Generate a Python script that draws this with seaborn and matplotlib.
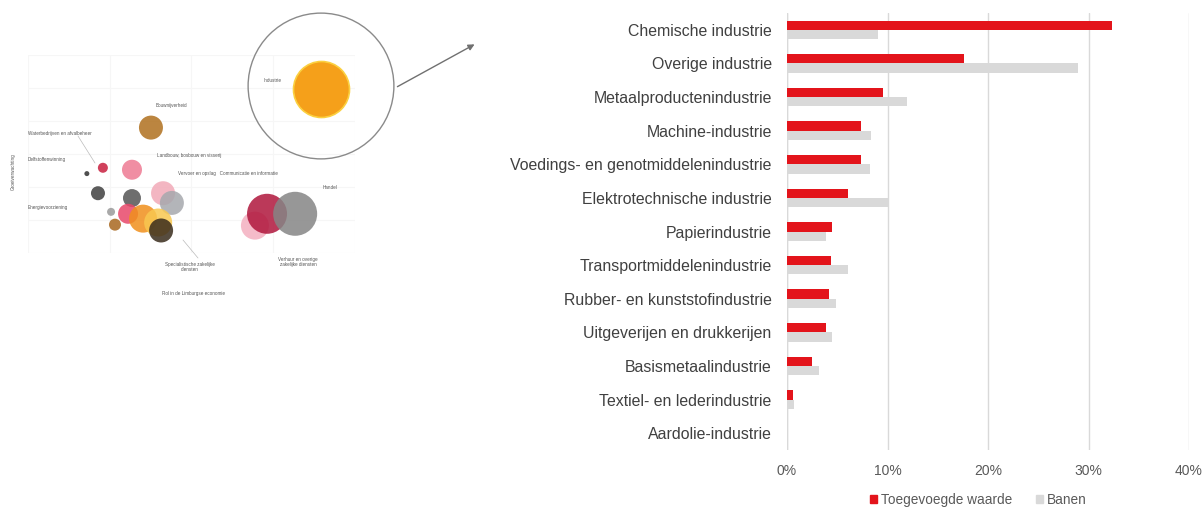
import matplotlib
matplotlib.use("Agg")
import matplotlib.pyplot as plt
import matplotlib.patches as mpatches
import seaborn as sns
import numpy as np
import pandas as pd

# bar chart data (share in %)
categorieen = ["Chemische industrie", "Overige industrie", "Metaalproductenindustrie",
               "Machine-industrie", "Voedings- en genotmiddelenindustrie",
               "Elektrotechnische industrie", "Papierindustrie",
               "Transportmiddelenindustrie", "Rubber- en kunststofindustrie",
               "Uitgeverijen en drukkerijen", "Basismetaalindustrie",
               "Textiel- en lederindustrie", "Aardolie-industrie"]
toegevoegde_waarde = [32.3, 17.6, 9.6, 7.4, 7.4, 6.1, 4.5, 4.4, 4.2, 3.9, 2.5, 0.6, 0.0]
banen = [9.1, 29.0, 11.9, 8.4, 8.3, 10.0, 3.9, 6.1, 4.9, 4.5, 3.2, 0.7, 0.0]
reeksen = ["Toegevoegde waarde", "Banen"]
x_ticks = [0, 10, 20, 30, 40]

# bubble chart thumbnail data (arbitrary 0-10 units)
bubbel_namen = ["Landbouw", "Waterbedrijven", "Delfstoffen", "Bouw", "Donker1", "Donker2",
                "Vervoer", "Communicatie", "Klein grijs", "Roze", "Oranje", "Geel",
                "Bruin klein", "Specialistisch", "Verhuur roze", "Verhuur", "Handel"]
bubbel_x = [3.18, 2.29, 1.80, 3.76, 2.14, 3.18, 4.13, 4.40, 2.54, 3.06, 3.52, 3.98,
            2.66, 4.07, 6.94, 7.31, 8.17]
bubbel_y = [4.29, 4.39, 4.09, 6.46, 3.08, 2.83, 3.08, 2.58, 2.12, 2.02, 1.77, 1.57,
            1.46, 1.16, 1.41, 2.02, 2.02]
bubbel_r = [10, 5, 2.5, 12, 7, 9, 12, 12, 4, 10, 14, 14, 6, 12, 14, 20, 22]
bubbel_kleur = ["#ee7a93", "#c8203f", "#303030", "#b0701e", "#404040", "#555555",
                "#f2aab8", "#a6a8ad", "#9a9a9a", "#e8486a", "#f0901c", "#f8c850",
                "#a86820", "#3a2c1c", "#f4b0c0", "#b0163c", "#858585"]
industrie_x = [0.0]
industrie_y = [-0.04]
industrie_r = [28]

rood = "#e3141b"
grijs = "#d9d9d9"

sns.set_style("white")
plt.rcParams["font.family"] = ["Liberation Sans", "DejaVu Sans"]

W, H = 1204, 509
fig = plt.figure(figsize=(W / 100, H / 100), dpi=100)


def px_axes(x0, y0, x1, y1):
    return fig.add_axes([x0 / W, 1 - y1 / H, (x1 - x0) / W, (y1 - y0) / H])


# ---------- bar chart ----------
ax = px_axes(787, 13, 1189, 450)
df = pd.DataFrame({
    "categorie": categorieen * 2,
    "reeks": [reeksen[0]] * len(categorieen) + [reeksen[1]] * len(categorieen),
    "waarde": toegevoegde_waarde + banen,
})
sns.barplot(data=df, x="waarde", y="categorie", hue="reeks", orient="h",
            palette=[rood, grijs], width=0.55, dodge=True, ax=ax, saturation=1,
            linewidth=0)
ax.set_xlim(0, 40)
ax.set_xticks(x_ticks)
ax.set_xticklabels([f"{t}%" for t in x_ticks], color="#595959", fontsize=10)
ax.tick_params(axis="x", length=0, pad=10)
ax.tick_params(axis="y", length=0, pad=11, labelsize=11.4, labelcolor="#404040")
ax.set_xlabel("")
ax.set_ylabel("")
ax.grid(axis="x", color="#d9d9d9", linewidth=1)
ax.set_axisbelow(True)
for s in ax.spines.values():
    s.set_visible(False)
ax.axvline(0, color="#d9d9d9", linewidth=1, zorder=0)
handles = [mpatches.Patch(color=rood), mpatches.Patch(color=grijs)]
ax.legend(handles, reeksen, loc="center", bbox_to_anchor=(0.476, -0.114), ncol=2,
          frameon=False, handlelength=0.5, handleheight=0.5, handletextpad=0.3,
          columnspacing=1.8, fontsize=9.8, labelcolor="#595959")

# ---------- bubble chart thumbnail ----------
bx = px_axes(28, 55, 355, 253)
sns.scatterplot(x=bubbel_x, y=bubbel_y, hue=bubbel_namen,
                palette=dict(zip(bubbel_namen, bubbel_kleur)),
                s=[(2 * r * 0.72) ** 2 for r in bubbel_r], alpha=0.85,
                linewidth=0, legend=False, ax=bx)
bx.set_xlim(0, 10)
bx.set_ylim(0, 10)
bx.set_xticks(np.arange(0, 11, 2.5))
bx.set_yticks(np.arange(0, 11, 1.7))
bx.set_xticklabels([])
bx.set_yticklabels([])
bx.tick_params(length=0)
bx.grid(color="#f6f6f6", linewidth=0.8)
for s in bx.spines.values():
    s.set_visible(False)

lab = dict(fontsize=3.3, color="#555555")
fig.text(156 / W, 1 - 107 / H, "Bouwnijverheid", **lab)
fig.text(28 / W, 1 - 134 / H, "Waterbedrijven en afvalbeheer", va="center", **lab)
fig.text(28 / W, 1 - 160 / H, "Delfstoffenwinning", va="center", **lab)
fig.text(157 / W, 1 - 155 / H, "Landbouw, bosbouw en visserij", va="center", **lab)
fig.text(178 / W, 1 - 173 / H, "Vervoer en opslag   Communicatie en informatie",
         va="center", **lab)
fig.text(323 / W, 1 - 188 / H, "Handel", va="center", **lab)
fig.text(28 / W, 1 - 208 / H, "Energievoorziening", va="center", **lab)
fig.text(190 / W, 1 - 267 / H, "Specialistische zakelijke\ndiensten", ha="center",
         va="center", linespacing=1.1, **lab)
fig.text(298 / W, 1 - 262 / H, "Verhuur en overige\nzakelijke diensten", ha="center",
         va="center", linespacing=1.1, **lab)
fig.text(193 / W, 1 - 293 / H, "Rol in de Limburgse economie", ha="center",
         va="center", **lab)
fig.text(13 / W, 1 - 172 / H, "Groeiverwachting", rotation=90, ha="center",
         va="center", **lab)
fig.add_artist(plt.Line2D([78 / W, 95 / W], [1 - 136 / H, 1 - 163 / H],
                          color="#bbbbbb", linewidth=0.5))
fig.add_artist(plt.Line2D([183 / W, 198 / W], [1 - 240 / H, 1 - 258 / H],
                          color="#bbbbbb", linewidth=0.5))

# ---------- magnifier ----------
mx = px_axes(247, 12, 395, 160)
mx.set_xlim(-1, 1)
mx.set_ylim(-1, 1)
mx.add_patch(mpatches.Circle((0, 0), 0.985, fill=False, edgecolor="#8a8a8a",
                             linewidth=1.0))
sns.scatterplot(x=industrie_x, y=industrie_y, color="#f5a01a",
                s=[(2 * r * 0.72) ** 2 for r in industrie_r], edgecolor="#fbd040",
                linewidth=1.2, legend=False, ax=mx)
mx.text(-0.78, 0.08, "Industrie", fontsize=3.3, color="#555555", va="center")
mx.set_axis_off()

fig.add_artist(mpatches.FancyArrowPatch((395 / W, 1 - 88 / H), (477 / W, 1 - 43 / H),
                                        transform=fig.transFigure,
                                        arrowstyle="-|>", mutation_scale=9,
                                        color="#707070", linewidth=1.0))

fig.savefig("out.png", dpi=100)
